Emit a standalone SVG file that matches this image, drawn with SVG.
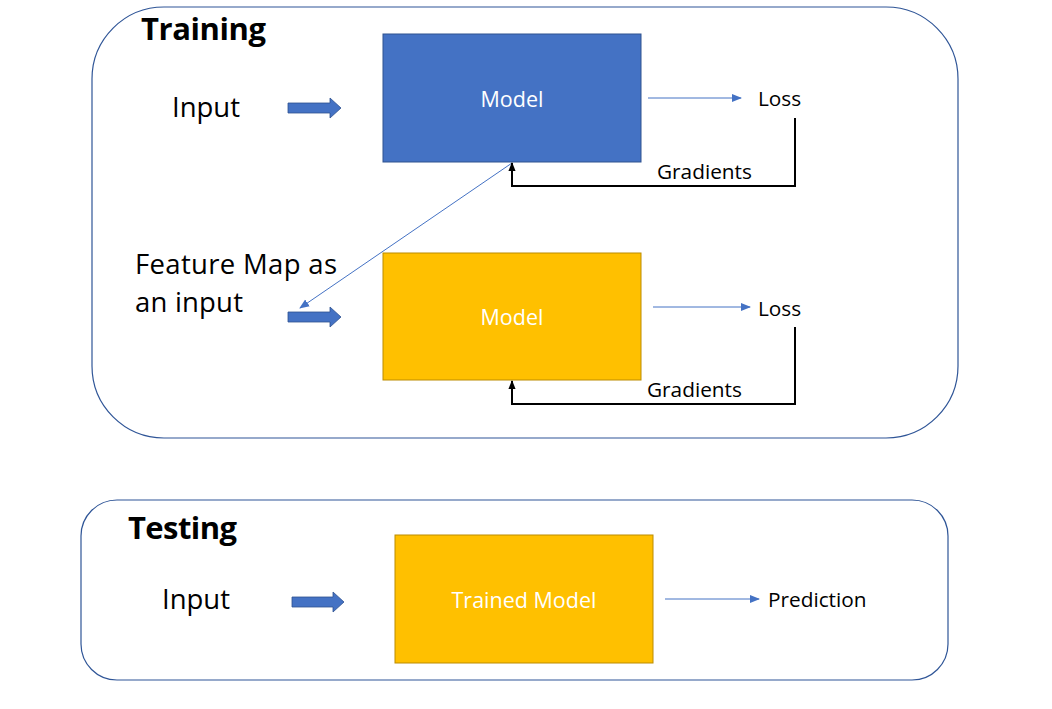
<svg xmlns="http://www.w3.org/2000/svg" width="1052" height="709" viewBox="0 0 1052 709">
<defs>
<style>
text{font-family:"Open Sans","Liberation Sans",sans-serif;fill:#000}
.frame{fill:#fff;stroke:#2F5597;stroke-width:1.2}
.title{font-weight:bold;font-size:31px}
.big{font-size:27.5px}
.mid{font-size:20.8px}
.wt{fill:#fff;font-size:21.5px;text-anchor:middle}
.blue{fill:#4472C4;stroke:#2F528F;stroke-width:1}
.gold{fill:#FFC000;stroke:#BC8C00;stroke-width:1}
.fat{fill:#4472C4;stroke:#2F528F;stroke-width:0.8}
.thin{stroke:#4472C4;stroke-width:1;fill:none}
.fb{stroke:#000;stroke-width:2;fill:none}
</style>
<marker id="ab" viewBox="0 0 10 10" refX="9" refY="5" markerWidth="10" markerHeight="10" markerUnits="userSpaceOnUse" orient="auto"><path d="M0,1 L10,5 L0,9 z" fill="#4472C4"/></marker>
<marker id="ak" viewBox="0 0 10 10" refX="9" refY="5" markerWidth="9" markerHeight="9" markerUnits="userSpaceOnUse" orient="auto"><path d="M0,1 L10,5 L0,9 z" fill="#000"/></marker>
</defs>
<rect width="1052" height="709" fill="#fff"/>
<g id="training-frame">
<rect class="frame" x="92" y="7" width="866" height="431" rx="72" ry="72"/>
<text class="title" x="141" y="40" textLength="125">Training</text>
</g>
<g id="testing-frame">
<rect class="frame" x="81" y="500" width="867" height="180" rx="36" ry="36"/>
<text class="title" x="128" y="539" textLength="109">Testing</text>
</g>
<g id="input1"><text class="big" x="172" y="117">Input</text></g>
<g id="featuremap"><text class="big" x="135" y="274" textLength="202">Feature Map as</text><text class="big" x="135" y="312" textLength="108">an input</text></g>
<g id="input2"><text class="big" x="162" y="609">Input</text></g>
<g id="fat-arrows">
<path class="fat" d="M288,103 H330 V98 L341,108 L330,118 V113 H288 z"/>
<path class="fat" d="M288,312 H330 V307 L341,317 L330,327 V322 H288 z"/>
<path class="fat" d="M292,597 H333 V592 L344,602 L333,612 V607 H292 z"/>
</g>
<g id="model1"><rect class="blue" x="383" y="34" width="258" height="128"/><text class="wt" x="512" y="107">Model</text></g>
<g id="model2"><rect class="gold" x="383" y="253" width="258" height="127"/><text class="wt" x="512" y="325">Model</text></g>
<g id="trained"><rect class="gold" x="395" y="535" width="258" height="128"/><text class="wt" x="524" y="608">Trained Model</text></g>
<g id="loss1"><text class="mid" x="758" y="106">Loss</text></g>
<g id="loss2"><text class="mid" x="758" y="316">Loss</text></g>
<g id="grad1"><text class="mid" x="657" y="179">Gradients</text></g>
<g id="grad2"><text class="mid" x="647" y="397">Gradients</text></g>
<g id="prediction"><text class="mid" x="768" y="607">Prediction</text></g>
<g id="connectors">
<line class="thin" x1="648" y1="98" x2="741" y2="98" marker-end="url(#ab)"/>
<line class="thin" x1="653" y1="307" x2="750" y2="307" marker-end="url(#ab)"/>
<line class="thin" x1="665" y1="599" x2="759" y2="599" marker-end="url(#ab)"/>
<line class="thin" x1="512" y1="163" x2="300" y2="308" marker-end="url(#ab)"/>
<polyline class="fb" points="795,118 795,186 512,186 512,163" marker-end="url(#ak)"/>
<polyline class="fb" points="795,327 795,404 512,404 512,381" marker-end="url(#ak)"/>
</g>
</svg>
